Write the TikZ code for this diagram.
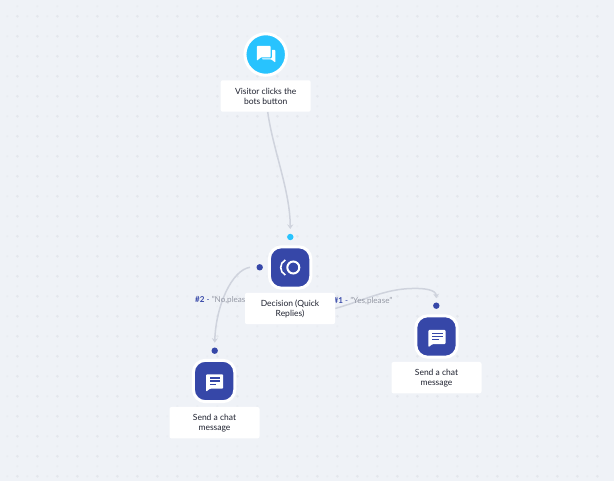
\documentclass[tikz,border=0pt]{standalone}
\usepackage{fontspec}
\setmainfont{Lato}
\usetikzlibrary{arrows.meta}
\definecolor{bgc}{HTML}{EFF2F7}
\definecolor{dotstrong}{HTML}{E3E6EC}
\definecolor{dotlight}{HTML}{EAEDF2}
\definecolor{indigo}{HTML}{3647A8}
\definecolor{sky}{HTML}{28C3FE}
\definecolor{wire}{HTML}{CFD3DD}
\definecolor{mutedtxt}{HTML}{9599A5}
\definecolor{ink}{HTML}{1F2230}
\pgfdeclarelayer{under}
\pgfsetlayers{under,main}
\tikzset{
  x=1pt,y=-1pt,
  conn/.style={draw=wire,line width=1.5pt,-{Stealth[length=4.5pt,width=6pt]}},
  squarenode/.style={draw=white,line width=3pt,fill=indigo,rounded corners=12pt,minimum size=41.4pt,inner sep=0pt},
  roundnode/.style={circle,draw=white,line width=3pt,fill=sky,minimum size=41.5pt,inner sep=0pt},
  labelbox/.style={fill=white,rounded corners=2pt,minimum width=90pt,minimum height=31.4pt,inner sep=0pt,align=center,
    text=ink,font=\fontsize{8.5}{10}\selectfont},
  portdot/.style={circle,fill=indigo,minimum size=6.4pt,inner sep=0pt},
  edgetxt/.style={anchor=west,inner sep=0pt,font=\fontsize{8.1}{10}\selectfont,text=mutedtxt}
}
\newcommand{\chaticon}[2]{%
  \begin{scope}[shift={(#1,#2)}]
    \fill[white,rounded corners=1pt] (-8.4,-6.8) -- (8.8,-6.8) -- (8.8,7.4) -- (-4.4,7.4) -- (-8.4,10.6) -- cycle;
    \fill[indigo] (-4.4,-3.8) rectangle (6,-2.6);
    \fill[indigo] (-4.4,-.8) rectangle (6,.4);
    \fill[indigo] (-4.4,2.4) rectangle (2,3.6);
  \end{scope}}
\begin{document}
\begin{tikzpicture}
\useasboundingbox (0,0) rectangle (614,481);
% nodes
\node[roundnode] (start) at (265.7,54.5) {};
\node[labelbox] (startlbl) at (265.7,96) {\raisebox{-1pt}{Visitor clicks the}\\\raisebox{-1pt}{bots button}};
\node[portdot,fill=sky] (toptarget) at (290.3,237) {};
\node[squarenode] (decision) at (290.1,267.5) {};
\node[labelbox] (decisionlbl) at (290,308.5) {\raisebox{-1pt}{Decision (Quick}\\\raisebox{-1pt}{Replies)}};
\node[portdot] (noport) at (259.7,267.3) {};
\node[portdot] (lefttarget) at (214.7,350.7) {};
\node[squarenode] (leftchat) at (214.1,381) {};
\node[labelbox] (leftlbl) at (214.5,422.7) {\raisebox{-1pt}{Send a chat}\\\raisebox{-1pt}{message}};
\node[portdot] (righttarget) at (436.3,305.7) {};
\node[squarenode] (rightchat) at (436.5,336.5) {};
\node[labelbox] (rightlbl) at (436.5,377.7) {\raisebox{-1pt}{Send a chat}\\\raisebox{-1pt}{message}};
% background, connectors and edge labels go under the nodes
\begin{pgfonlayer}{under}
  \fill[bgc] (0,0) rectangle (614,481);
  \foreach \i in {0,...,29}{
    \foreach \j in {0,...,23}{
      \pgfmathsetmacro{\xa}{17.3+20*\i}
      \pgfmathsetmacro{\ya}{16.3+20*\j}
      \pgfmathsetmacro{\xb}{7.3+20*\i}
      \pgfmathsetmacro{\yb}{6.3+20*\j}
      \fill[dotlight] (\xb,\ya) circle (1.2pt);
      \fill[dotlight] (\xa,\yb) circle (1.2pt);
      \fill[dotstrong] (\xa,\ya) circle (1.5pt);
    }
  }
  \draw[conn] ([xshift=2pt]startlbl.south) .. controls (273,150) and (290,190) .. ([yshift=8pt]toptarget.center);
  \draw[conn] ([xshift=-9.7pt]noport.center) .. controls (232,270) and (216,305) .. ([yshift=8pt]lefttarget.center);
  \draw[conn] (decisionlbl.east) .. controls (365,300) and (385,289) .. (412,288.5) .. controls (425,288) and (436,290) .. ([yshift=7.5pt]righttarget.center);
  \node[edgetxt] (nolabel) at (195,299.8) {\textcolor{indigo}{\textbf{\#2} -} "No,please"};
  \node[edgetxt] (yeslabel) at (333.5,300.8) {\textcolor{indigo}{\textbf{\#1} -} "Yes,please"};
\end{pgfonlayer}
% icons
\fill[white,rounded corners=.8pt] (262,50) -- (275.3,50) -- (275.3,62.6) -- (271.4,59.4) -- (262,59.4) -- cycle;
\fill[sky,rounded corners=1pt] (255.6,44.9) -- (271.8,44.9) -- (271.8,58.4) -- (261.4,58.4) -- (255.6,63) -- cycle;
\fill[white,rounded corners=.8pt] (256.8,46) -- (270.7,46) -- (270.7,57.3) -- (261,57.3) -- (256.8,60.8) -- cycle;
\draw[white,line width=2pt] (293.3,267.5) circle (6pt);
\draw[white,line width=1.6pt] (285.3,260) .. controls (279.2,263) and (279.2,272) .. (285.3,275);
\chaticon{214.4}{381.2}
\chaticon{436.8}{336.7}
\end{tikzpicture}
\end{document}
